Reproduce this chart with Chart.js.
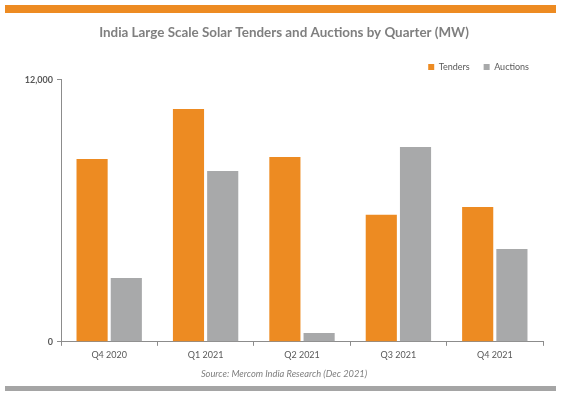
<!DOCTYPE html>
<html>
<head>
<meta charset="utf-8">
<script src="https://cdn.jsdelivr.net/npm/chart.js@4"></script>
<style>
  html, body { margin: 0; padding: 0; background: #fff; }
  #wrap { width: 566px; height: 396px; position: relative; }
</style>
</head>
<body>
<div id="wrap"><canvas id="c" width="566" height="396"></canvas></div>
<script>
const categories = ["Q4 2020", "Q1 2021", "Q2 2021", "Q3 2021", "Q4 2021"];
const tenders = [8380, 10670, 8470, 5820, 6180];
const auctions = [2930, 7830, 410, 8930, 4260];
const yTicks = [0, 12000];

const ORANGE = "#ED8B22";
const GRAY = "#A8A9AA";
const AXIS = "#8C8C8C";
const FONT = "Lato, 'Open Sans', sans-serif";

const framePlugin = {
  id: "frame",
  beforeDraw(chart) {
    const ctx = chart.ctx;
    ctx.save();
    ctx.fillStyle = "#fff";
    ctx.fillRect(0, 0, chart.width, chart.height);
    ctx.fillStyle = ORANGE;
    ctx.fillRect(5, 5, 551, 8);
    ctx.fillStyle = "#A5A5A5";
    ctx.fillRect(5, 386, 551, 5);
    ctx.restore();
  }
};

new Chart(document.getElementById("c"), {
  type: "bar",
  data: {
    labels: categories,
    datasets: [
      { label: "Tenders", data: tenders, backgroundColor: ORANGE },
      { label: "Auctions", data: auctions, backgroundColor: GRAY }
    ]
  },
  options: {
    responsive: false,
    animation: false,
    devicePixelRatio: 1,
    categoryPercentage: 0.71,
    barPercentage: 0.91,
    layout: { padding: { left: 25, right: 23, top: 0, bottom: 10 } },
    plugins: {
      title: {
        display: true,
        text: "India Large Scale Solar Tenders and Auctions by Quarter (MW)",
        color: "#7F7F7F",
        font: { family: FONT, size: 13.4, weight: "bold" },
        padding: { top: 25, bottom: 7.4 }
      },
      legend: {
        display: true,
        position: "top",
        align: "end",
        maxHeight: 31.5,
        labels: {
          boxWidth: 6,
          boxHeight: 6,
          color: "#595959",
          font: { family: FONT, size: 9 },
          padding: 14
        }
      },
      subtitle: {
        display: true,
        position: "bottom",
        text: "Source: Mercom India Research (Dec 2021)",
        color: "#7F7F7F",
        font: { family: FONT, size: 9.3, style: "italic" },
        padding: { top: 6, bottom: 6 }
      },
      tooltip: { enabled: false }
    },
    scales: {
      x: {
        grid: { display: true, drawOnChartArea: false, color: AXIS, tickLength: 4, offset: true },
        border: { display: true, color: AXIS, width: 1 },
        ticks: { color: "#595959", font: { family: FONT, size: 9 }, padding: 4, maxRotation: 0 },
        afterFit(s) { s.height = 21; }
      },
      y: {
        min: 0,
        max: 12000,
        afterBuildTicks(s) { s.ticks = yTicks.map(v => ({ value: v })); },
        grid: { display: true, drawOnChartArea: false, color: AXIS, tickLength: 4 },
        border: { display: true, color: AXIS, width: 1 },
        ticks: {
          color: "#595959",
          font: { family: FONT, size: 9, weight: "bold" },
          padding: 4,
          callback: v => v.toLocaleString("en-US")
        },
        afterFit(s) { s.width = 36; }
      }
    }
  },
  plugins: [framePlugin]
});
</script>
</body>
</html>
